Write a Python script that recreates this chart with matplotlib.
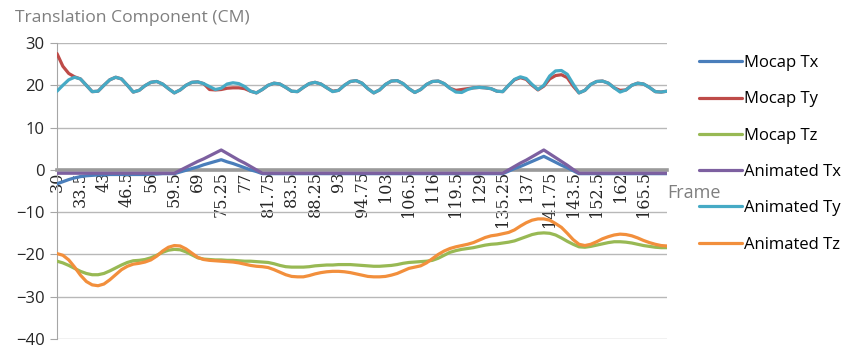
import matplotlib
matplotlib.use("Agg")
import matplotlib.pyplot as plt
import matplotlib.transforms as mtransforms
import numpy as np


# frame labels shown on the category axis (one every 4 samples)
FRAME_LABELS = [
    "30", "33.5", "43", "46.5", "56", "59.5", "69", "75.25", "77", "81.75",
    "83.5", "88.25", "93", "94.75", "103", "106.5", "116", "119.5", "129",
    "135.25", "137", "141.75", "143.5", "152.5", "162", "165.5",
]

mocap_tx = [
    -3.3, -2.8, -2.3, -1.9, -1.6, -1.4, -1.3, -1.2, -1.2, -1.1,
    -1.1, -1.1, -1.1, -1.1, -1.1, -1.1, -1.0, -1.0, -0.9, -0.9,
    -0.9, -0.5, -0.1, 0.3, 0.7, 1.2, 1.6, 2.0, 2.4, 1.9,
    1.5, 1.0, 0.5, 0.0, -0.4, -0.9, -0.9, -0.9, -0.9, -0.9,
    -0.9, -0.9, -0.9, -0.9, -0.9, -0.9, -0.9, -0.9, -0.9, -0.9,
    -0.9, -0.9, -0.9, -0.9, -0.9, -0.9, -0.9, -0.9, -0.9, -0.9,
    -0.9, -0.9, -0.9, -0.9, -0.9, -0.9, -0.9, -0.9, -0.9, -0.9,
    -0.9, -0.9, -0.9, -0.9, -0.9, -0.9, -0.9, -0.3, 0.3, 0.8,
    1.4, 2.0, 2.6, 3.2, 2.5, 1.8, 1.1, 0.5, -0.2, -0.9,
    -0.9, -0.9, -0.9, -0.9, -0.9, -0.9, -0.9, -0.9, -0.9, -0.9,
    -0.9, -0.9, -0.9, -0.9, -0.9,
]

mocap_ty = [
    27.5, 24.5, 22.8, 22.0, 21.5, 20.0, 18.5, 18.6, 20.0, 21.3,
    21.9, 21.5, 20.0, 18.4, 18.8, 19.9, 20.7, 20.9, 20.3, 19.2,
    18.2, 18.9, 20.0, 20.7, 20.8, 20.4, 19.0, 18.9, 19.0, 19.3,
    19.4, 19.4, 19.2, 18.6, 18.2, 19.0, 20.0, 20.5, 20.3, 19.5,
    18.6, 18.5, 19.5, 20.4, 20.7, 20.3, 19.4, 18.6, 18.8, 20.0,
    20.9, 21.1, 20.5, 19.2, 18.2, 18.9, 20.2, 21.0, 21.1, 20.4,
    19.2, 18.3, 19.0, 20.2, 20.9, 21.0, 20.4, 19.3, 18.8, 19.0,
    19.2, 19.4, 19.5, 19.4, 19.2, 18.6, 18.5, 20.0, 21.3, 21.8,
    21.4, 20.0, 18.9, 19.8, 21.5, 22.3, 22.5, 21.8, 19.8, 18.2,
    18.8, 20.2, 20.9, 21.0, 20.5, 19.4, 18.8, 18.9, 20.0, 20.5,
    20.3, 19.5, 18.5, 18.4, 18.6,
]

mocap_tz = [
    -21.6, -22.0, -22.6, -23.3, -24.0, -24.5, -24.8, -24.8, -24.5, -23.9,
    -23.2, -22.5, -21.9, -21.5, -21.4, -21.2, -20.8, -20.2, -19.5, -19.0,
    -18.8, -18.9, -19.4, -20.1, -20.8, -21.1, -21.2, -21.3, -21.3, -21.4,
    -21.4, -21.5, -21.6, -21.6, -21.7, -21.8, -21.9, -22.2, -22.6, -22.9,
    -23.0, -23.0, -23.0, -22.9, -22.7, -22.6, -22.5, -22.5, -22.4, -22.4,
    -22.4, -22.5, -22.6, -22.7, -22.8, -22.8, -22.7, -22.6, -22.4, -22.1,
    -21.9, -21.8, -21.7, -21.6, -21.4, -20.9, -20.2, -19.5, -19.1, -18.8,
    -18.6, -18.4, -18.1, -17.8, -17.6, -17.5, -17.3, -17.1, -16.8, -16.3,
    -15.8, -15.3, -15.0, -14.9, -15.0, -15.4, -16.1, -16.9, -17.6, -18.2,
    -18.3, -18.1, -17.8, -17.5, -17.2, -17.0, -17.0, -17.1, -17.3, -17.6,
    -17.9, -18.1, -18.3, -18.4, -18.4,
]

anim_tx = [
    -0.8, -0.8, -0.8, -0.8, -0.8, -0.8, -0.8, -0.8, -0.8, -0.8,
    -0.8, -0.8, -0.8, -0.8, -0.8, -0.8, -0.8, -0.8, -0.8, -0.8,
    -0.8, -0.1, 0.6, 1.3, 2.0, 2.6, 3.3, 4.0, 4.7, 3.9,
    3.1, 2.3, 1.6, 0.8, 0.0, -0.8, -0.8, -0.8, -0.8, -0.8,
    -0.8, -0.8, -0.8, -0.8, -0.8, -0.8, -0.8, -0.8, -0.8, -0.8,
    -0.8, -0.8, -0.8, -0.8, -0.8, -0.8, -0.8, -0.8, -0.8, -0.8,
    -0.8, -0.8, -0.8, -0.8, -0.8, -0.8, -0.8, -0.8, -0.8, -0.8,
    -0.8, -0.8, -0.8, -0.8, -0.8, -0.8, -0.8, 0.0, 0.8, 1.6,
    2.3, 3.1, 3.9, 4.7, 3.8, 2.9, 2.0, 1.1, 0.1, -0.8,
    -0.8, -0.8, -0.8, -0.8, -0.8, -0.8, -0.8, -0.8, -0.8, -0.8,
    -0.8, -0.8, -0.8, -0.8, -0.8,
]

anim_ty = [
    18.6, 20.0, 21.3, 21.9, 21.5, 20.0, 18.5, 18.6, 20.0, 21.3,
    21.9, 21.5, 20.0, 18.4, 18.8, 19.9, 20.7, 20.9, 20.3, 19.2,
    18.2, 18.9, 20.0, 20.7, 20.8, 20.4, 19.7, 19.0, 19.3, 20.3,
    20.6, 20.4, 19.7, 18.6, 18.2, 19.0, 20.0, 20.5, 20.3, 19.5,
    18.6, 18.5, 19.5, 20.4, 20.7, 20.3, 19.4, 18.5, 18.8, 20.0,
    20.9, 21.1, 20.5, 19.2, 18.2, 18.9, 20.2, 21.0, 21.1, 20.4,
    19.2, 18.3, 19.0, 20.2, 20.9, 21.0, 20.4, 19.3, 18.4, 18.3,
    19.0, 19.4, 19.5, 19.4, 19.2, 18.6, 18.5, 20.0, 21.4, 22.0,
    21.6, 20.2, 19.0, 20.0, 22.2, 23.4, 23.5, 22.6, 20.3, 18.2,
    18.8, 20.2, 20.9, 21.0, 20.5, 19.4, 18.4, 18.9, 20.0, 20.5,
    20.3, 19.5, 18.5, 18.4, 18.6,
]

anim_tz = [
    -19.8, -20.2, -21.3, -23.0, -24.9, -26.4, -27.2, -27.4, -27.0, -26.0,
    -24.8, -23.6, -22.8, -22.3, -22.1, -21.8, -21.3, -20.4, -19.2, -18.3,
    -17.9, -18.0, -18.7, -19.7, -20.7, -21.2, -21.4, -21.5, -21.6, -21.7,
    -21.8, -22.0, -22.3, -22.6, -22.8, -22.9, -23.1, -23.6, -24.2, -24.8,
    -25.2, -25.3, -25.3, -25.0, -24.6, -24.3, -24.1, -24.0, -24.0, -24.1,
    -24.3, -24.6, -24.9, -25.2, -25.3, -25.3, -25.2, -24.9, -24.5, -23.9,
    -23.3, -23.0, -22.7, -22.0, -21.0, -20.0, -19.2, -18.6, -18.2, -17.9,
    -17.6, -17.2, -16.6, -16.0, -15.6, -15.4, -15.1, -14.8, -14.2, -13.3,
    -12.5, -11.9, -11.6, -11.6, -11.9, -12.7, -13.6, -15.0, -16.5, -17.6,
    -17.9, -17.6, -17.0, -16.3, -15.8, -15.4, -15.2, -15.3, -15.6, -16.1,
    -16.7, -17.2, -17.6, -17.9, -18.0,
]

SERIES = [
    ("Mocap Tx", mocap_tx, "#4a7ebb"),
    ("Mocap Ty", mocap_ty, "#be4b48"),
    ("Mocap Tz", mocap_tz, "#98b954"),
    ("Animated Tx", anim_tx, "#7d60a0"),
    ("Animated Ty", anim_ty, "#46aac5"),
    ("Animated Tz", anim_tz, "#f28f3c"),
]

LABEL_STEP = 4
FONT = "Open Sans"


def make_plot():
    fig = plt.figure(figsize=(8.45, 3.45), dpi=100)
    ax = fig.add_axes([57 / 845, 6 / 345, 610 / 845, 296 / 345])

    x = np.arange(len(anim_ty))
    for name, vals, color in SERIES:
        ax.plot(x, vals, color=color, lw=2.3, label=name, zorder=3,
                solid_capstyle="round", solid_joinstyle="round")

    ax.set_xlim(0, len(x) - 1)
    ax.set_ylim(-40, 30)
    ax.set_yticks(np.arange(-40, 31, 10))
    ax.yaxis.grid(True, color="#b8b8b8", lw=1.0, zorder=0)
    ax.set_axisbelow(True)

    # category axis crossing at zero, like the spreadsheet chart
    ax.spines["bottom"].set_position(("data", 0))
    ax.spines["bottom"].set_color("#9a9a9a")
    ax.spines["bottom"].set_linewidth(2.6)
    ax.spines["bottom"].set_zorder(2)
    ax.spines["left"].set_color("#a6a6a6")
    ax.spines["top"].set_visible(False)
    ax.spines["right"].set_visible(False)

    ax.set_xticks(x[:len(FRAME_LABELS) * LABEL_STEP:LABEL_STEP])
    ax.set_xticklabels(FRAME_LABELS, rotation=90, family="DejaVu Serif",
                       fontsize=11.5, color="#262626")
    ax.tick_params(axis="x", length=0, pad=1)
    ax.tick_params(axis="y", length=5, color="#a6a6a6", labelsize=12,
                   labelcolor="#262626", pad=4)
    for lab in ax.get_yticklabels():
        lab.set_family(FONT)

    trans = mtransforms.blended_transform_factory(ax.transAxes, ax.transData)
    ax.annotate("Frame", xy=(1.0, 0), xycoords=trans, xytext=(0, -10),
                textcoords="offset points", ha="left", va="top",
                fontsize=13, color="#7f7f7f", family=FONT)

    fig.text(15 / 845, 1 - 18 / 345, "Translation Component (CM)",
             ha="left", va="center", fontsize=12.6, color="#7f7f7f",
             family=FONT)

    fig.legend(loc="upper left", bbox_to_anchor=(699 / 845, 1 - 55 / 345),
               frameon=False, borderpad=0, borderaxespad=0,
               handlelength=2.6, handletextpad=0.12, labelspacing=1.22,
               prop={"family": FONT, "size": 12})

    fig.savefig("out.png", dpi=100)


make_plot()
